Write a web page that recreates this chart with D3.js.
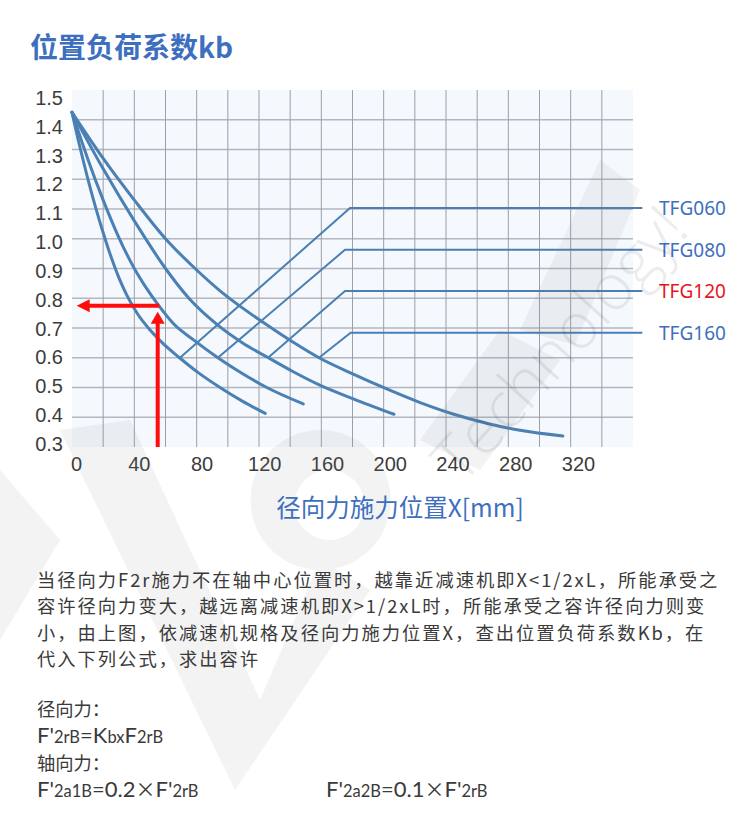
<!DOCTYPE html>
<html><head><meta charset="utf-8">
<script src="https://cdn.jsdelivr.net/npm/d3@7"></script>
<style>body{margin:0;background:#fff;} svg{display:block;}</style>
</head><body><svg id="c" width="750" height="833"></svg>
<script>
// ---------- data ----------
const seriesNames = ["TFG060", "TFG080", "TFG120", "TFG160"];
const curveTFG060 = [[0,1.425],[5,1.31],[10,1.205],[15,1.108],[20,1.02],[25,0.94],[30,0.87],[35,0.812],[42,0.748],[49,0.70],[58,0.65],[69,0.60],[81,0.55],[95,0.50],[109,0.455],[124,0.413]];
const curveTFG080 = [[0,1.425],[10,1.27],[20,1.13],[30,1.005],[40,0.90],[47,0.84],[55,0.78],[65,0.715],[78,0.66],[93.6,0.60],[109,0.548],[125,0.50],[148.4,0.445]];
const curveTFG120 = [[0,1.425],[20,1.235],[40,1.06],[60,0.90],[75,0.80],[93,0.712],[110,0.648],[126,0.60],[142,0.553],[159,0.508],[180.5,0.462],[206.6,0.41]];
const curveTFG160 = [[0,1.425],[20,1.27],[40,1.13],[60,1.0],[80,0.895],[95,0.825],[110,0.765],[128,0.70],[142,0.652],[158.5,0.60],[180.5,0.545],[202,0.495],[223,0.45],[245,0.41],[266,0.38],[287.5,0.356],[315,0.337]];
const guideTFG060 = [[69.3,0.60],[178.4,1.103],[366,1.103]];
const guideTFG080 = [[93.6,0.60],[175.2,0.963],[366,0.963]];
const guideTFG120 = [[125.8,0.60],[175.2,0.824],[366,0.824]];
const guideTFG160 = [[158.5,0.60],[178.8,0.684],[366,0.684]];
const xTickLabels = [0,40,80,120,160,200,240,280,320];
const yTickLabels = [0.3,0.4,0.5,0.6,0.7,0.8,0.9,1.0,1.1,1.2,1.3,1.4,1.5];
const xGridValues = [20,40,60,80,100,120,140,160,180,200,220,240,260,280,300,320,340];
const yGridValues = [0.4,0.5,0.6,0.7,0.8,0.9,1.0,1.1,1.2,1.3,1.4];
const arrowUp = {x:55, from:0.3, to:0.755};
const arrowLeft = {y:0.775, from:56, to:3};
const bodyLines = [
  "当径向力F2r施力不在轴中心位置时，越靠近减速机即X<1/2xL，所能承受之",
  "容许径向力变大，越远离减速机即X>1/2xL时，所能承受之容许径向力则变",
  "小，由上图，依减速机规格及径向力施力位置X，查出位置负荷系数Kb，在",
  "代入下列公式，求出容许"
];

// ---------- setup ----------
const svg = d3.select("#c");
const blue = "#4a80b4";
const x = d3.scaleLinear().domain([0,360]).range([72,633]);
const y = d3.scaleLinear().domain([0.3,1.5]).range([447,90]);
const xLab = d3.scaleLinear().domain([0,320]).range([76,578]);
const yLab = d3.scaleLinear().domain([0.3,1.5]).range([444,98]);

// watermark (decorative)
function watermark(){
  const wm = svg.append("g").attr("fill","#7a7a7a").attr("opacity",0.085);
  wm.append("path").attr("d","M60,430L130,420L260,700L320,560L370,590L235,790Z");
  wm.append("path").attr("d","M0,470L60,540L0,640Z");
  wm.append("path").attr("d","M320,430 a70,70 0 1,0 1,0 Z M330,470 a35,35 0 1,1 -1,0Z").attr("fill-rule","evenodd");
  wm.append("path").attr("d","M420,440L500,330L560,360L480,470Z");
  wm.append("path").attr("d","M520,330L600,160L640,190L575,345Z");
  svg.append("text").attr("transform","translate(462,486) rotate(-48)")
    .attr("font-family","'Open Sans'").attr("font-weight",300).attr("font-size",64)
    .attr("fill","#000").attr("opacity",0.07).text("Technology!");
}

// title
svg.append("text").attr("x",30).attr("y",58)
  .attr("font-family","'Noto Sans CJK SC'").attr("font-weight",700).attr("font-size",28)
  .attr("fill","#3e6fbf").text("位置负荷系数kb");

// plot background
svg.append("rect").attr("x",x(0)).attr("y",y(1.5)).attr("width",x(360)-x(0)).attr("height",y(0.3)-y(1.5)).attr("fill","#f5f8fc");

// grid
svg.append("g").selectAll("line").data(yGridValues).join("line")
  .attr("x1",x(0)).attr("x2",x(360)).attr("y1",d=>y(d)).attr("y2",d=>y(d))
  .attr("stroke","#b3b7bf").attr("stroke-width",1.4);
svg.append("g").selectAll("line").data(xGridValues).join("line")
  .attr("x1",d=>x(d)).attr("x2",d=>x(d)).attr("y1",y(1.5)).attr("y2",y(0.3))
  .attr("stroke","#9ca0a8").attr("stroke-width",1);

// axes labels
const yAxis = svg.append("g").attr("transform","translate(63,0)")
  .call(d3.axisLeft(yLab).tickValues(yTickLabels).tickSize(0).tickPadding(0).tickFormat(d3.format(".1f")));
yAxis.select(".domain").remove();
yAxis.selectAll("text").attr("font-family","'Liberation Sans', Arial").attr("font-size",20).attr("fill","#3c3c3c");
const xAxis = svg.append("g").attr("transform","translate(0,457)")
  .call(d3.axisBottom(xLab).tickValues(xTickLabels).tickSize(0).tickPadding(0).tickFormat(d3.format("d")));
xAxis.select(".domain").remove();
xAxis.selectAll("text").attr("font-family","'Liberation Sans', Arial").attr("font-size",20).attr("fill","#3c3c3c");

// curves
const line = d3.line().x(d=>x(d[0])).y(d=>y(d[1])).curve(d3.curveMonotoneX);
const lineStraight = d3.line().x(d=>x(d[0])).y(d=>y(d[1]));
[curveTFG060,curveTFG080,curveTFG120,curveTFG160].forEach(c=>{
  svg.append("path").attr("d",line(c)).attr("fill","none").attr("stroke",blue).attr("stroke-width",3).attr("stroke-linecap","round");
});
const guides = [guideTFG060,guideTFG080,guideTFG120,guideTFG160];
guides.forEach(g=>{
  svg.append("path").attr("d",lineStraight(g)).attr("fill","none").attr("stroke","#4a7fb2").attr("stroke-width",2);
});
// legend labels
svg.append("g").selectAll("text").data(seriesNames).join("text")
  .attr("x",659).attr("y",(d,i)=>y(guides[i][2][1])+7)
  .attr("font-family","'Noto Sans'").attr("font-size",19)
  .attr("fill",d=>d==="TFG120"?"#e8141c":"#3e6fbf").text(d=>d);

// red arrows
const red = "#ff0d0d";
svg.append("line").attr("x1",x(arrowUp.x)).attr("x2",x(arrowUp.x)).attr("y1",y(arrowUp.from)).attr("y2",y(arrowUp.to)+11)
  .attr("stroke",red).attr("stroke-width",4);
svg.append("path").attr("fill",red).attr("d",()=>{
  const cx=x(arrowUp.x), ty=y(arrowUp.to);
  return `M${cx},${ty}L${cx+7},${ty+12}L${cx-7},${ty+12}Z`;
});
svg.append("line").attr("x1",x(arrowLeft.from)).attr("x2",x(arrowLeft.to)+11).attr("y1",y(arrowLeft.y)).attr("y2",y(arrowLeft.y))
  .attr("stroke",red).attr("stroke-width",4);
svg.append("path").attr("fill",red).attr("d",()=>{
  const tx=x(arrowLeft.to), cy=y(arrowLeft.y);
  return `M${tx},${cy}L${tx+13},${cy-6.5}L${tx+13},${cy+6.5}Z`;
});

watermark();

// axis title
svg.append("text").attr("x",400).attr("y",517).attr("text-anchor","middle")
  .attr("font-family","'Noto Sans CJK SC'").attr("font-size",24.5).attr("fill","#3e6fbf")
  .text("径向力施力位置X[mm]");

// body paragraph (one text block, one tspan per line)
const para = svg.append("text").attr("font-family","'Noto Sans CJK SC'").attr("font-size",18.3)
  .attr("letter-spacing",2).attr("fill","#3a3a3a");
para.selectAll("tspan").data(bodyLines).join("tspan")
  .attr("x",37).attr("y",(d,i)=>586.5+i*26.6).text(d=>d);

// formula block (one text block)
const fb = svg.append("text").attr("fill","#3a3a3a").attr("font-family","Lato");
function seg(t, size, fam, xp, yp){
  const s = fb.append("tspan").attr("font-size",size).text(t);
  if (fam) s.attr("font-family",fam);
  if (xp!==undefined) s.attr("x",xp).attr("y",yp);
  return s;
}
const CJK = "'Noto Sans CJK SC'";
seg("径向力：",18.3,CJK,37,715.5);
seg("F'",22,null,37,743); seg("2rB",16.5); seg("=K",22); seg("b",16.5); seg("x",16.5); seg("F",22); seg("2rB",16.5);
seg("轴向力：",18.3,CJK,37,770);
seg("F'",22,null,37,797); seg("2a1B",16.5); seg("=0.2",22); seg("×",20,CJK); seg("F'",22); seg("2rB",16.5);
seg("F'",22,null,326,797); seg("2a2B",16.5); seg("=0.1",22); seg("×",20,CJK); seg("F'",22); seg("2rB",16.5);
</script></body></html>
